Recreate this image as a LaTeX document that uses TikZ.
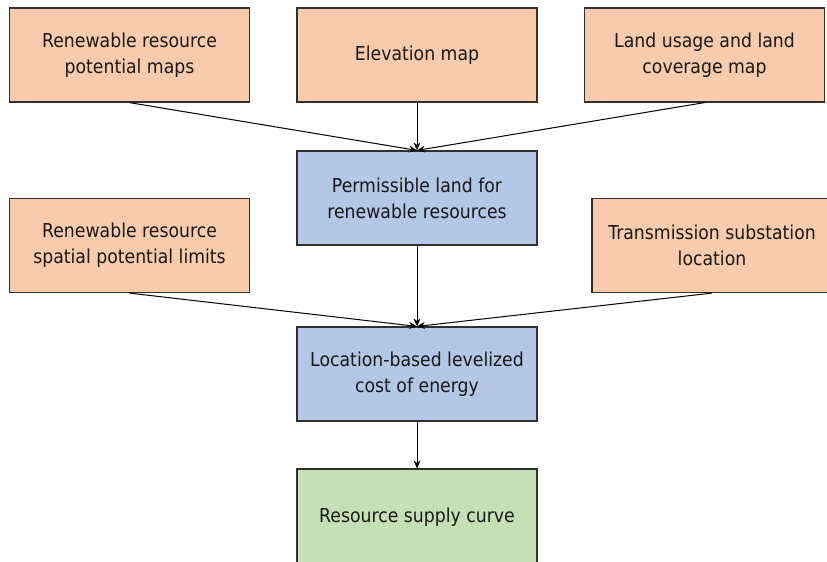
\documentclass[tikz,border=0pt]{standalone}
\usepackage{fontspec}
\setmainfont{DejaVu Sans}[FakeStretch=0.9]
\usetikzlibrary{arrows.meta}
\definecolor{orangefill}{HTML}{F8CBAD}
\definecolor{bluefill}{HTML}{B4C7E7}
\definecolor{greenfill}{HTML}{C5E0B4}
\definecolor{edgecol}{HTML}{303030}
\begin{document}
\begin{tikzpicture}[x=1pt,y=-1pt,
  box/.style={draw=edgecol, line width=1.2pt, minimum width=240pt, minimum height=94pt,
    inner sep=0pt, align=center, font=\fontsize{19.2}{26}\selectfont, text=black!90},
  inbox/.style={box, fill=orangefill},
  procbox/.style={box, fill=bluefill},
  outbox/.style={box, fill=greenfill},
  conn/.style={draw=black, line width=1pt, -{Stealth[length=8pt,width=7pt]}}]
\useasboundingbox (0,0) rectangle (827,562);
\fill[white] (0,0) rectangle (827,562);
\node[inbox] (a) at (129.5,55) {Renewable resource\\potential maps};
\node[inbox] (b) at (417,55) {Elevation map};
\node[inbox] (c) at (704.5,55) {Land usage and land\\coverage map};
\node[procbox] (d) at (417,198) {Permissible land for\\renewable resources};
\node[inbox] (e) at (129.5,245.5) {Renewable resource\\spatial potential limits};
\node[inbox] (f) at (712,245.5) {Transmission substation\\location};
\node[procbox] (g) at (417,374) {Location-based levelized\\cost of energy};
\node[outbox, minimum height=96pt] (h) at (417,517) {Resource supply curve};
\draw[conn] (a.south) -- (d.north);
\draw[conn] (b.south) -- (d.north);
\draw[conn] (c.south) -- (d.north);
\draw[conn] (d.south) -- (g.north);
\draw[conn] (e.south) -- (g.north);
\draw[conn] (f.south) -- (g.north);
\draw[conn] (g.south) -- (h.north);
\end{tikzpicture}
\end{document}
